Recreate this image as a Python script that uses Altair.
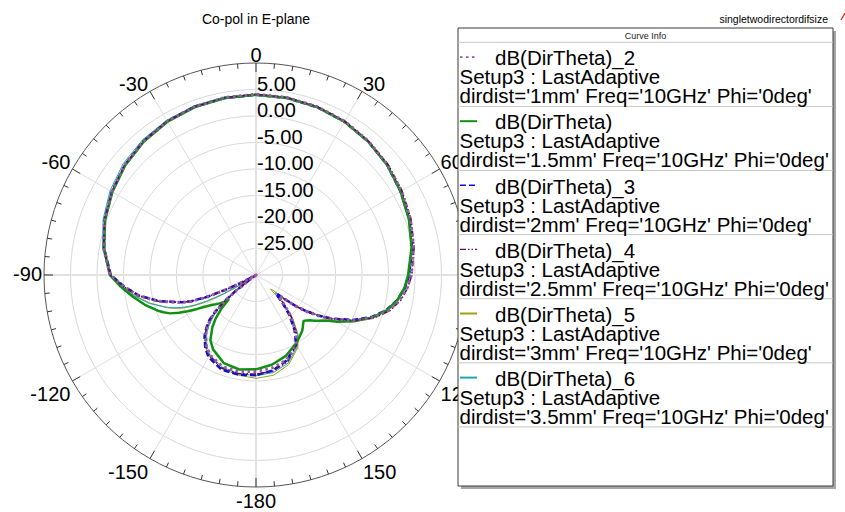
import altair as alt
import pandas as pd

# Far-field cut (Phi = 0 deg, 10 GHz): angle in degrees, 0 = zenith, clockwise positive.
theta_deg = [-180, -170, -160, -150, -145, -140, -137, -134, -132, -130,
             -128, -126, -124, -122, -120, -118, -116, -114, -112, -110,
             -105, -100, -95, -90, -80, -70, -60, -50, -40, -30,
             -20, -10, 0, 10, 20, 30, 40, 50, 60, 70,
             80, 90, 95, 100, 105, 110, 115, 120, 123, 126,
             128, 130, 132, 134, 136, 138, 140, 145, 150, 160,
             170, 180]

# dB(DirTheta) for each director spacing
db_1mm = [-11.8, -11.5, -11.6, -12.6, -13.7, -15.2, -16.5, -18.1, -19.9, -22.4,
          -25.5, -29.5, -33.0, -33.0, -31.0, -27.0, -23.4, -19.5, -16.6, -14.8,
          -10.9, -7.5, -4.9, -2.5, -0.8, 0.4, 1.4, 2.3, 3.0, 3.5,
          3.8, 4.0, 4.1, 4.0, 3.8, 3.5, 3.0, 2.4, 1.7, 1.0,
          0.2, -0.7, -1.4, -2.5, -4.1, -6.5, -9.7, -13.4, -15.8, -18.4,
          -20.4, -22.8, -24.2, -23.8, -22.6, -21.2, -19.8, -16.9, -14.8, -13.0,
          -12.2, -11.8]
db_1p5mm = [-12.2, -11.9, -12.3, -13.8, -15.0, -17.2, -18.9, -21.0, -23.0, -22.1,
            -21.3, -20.6, -19.9, -18.8, -17.2, -15.4, -13.8, -12.2, -11.2, -10.3,
            -8.3, -6.4, -4.4, -2.4, -0.9, 0.3, 1.3, 2.2, 2.9, 3.4,
            3.7, 3.9, 4.0, 3.9, 3.7, 3.4, 2.9, 2.3, 1.5, 0.7,
            -0.2, -1.3, -1.9, -2.9, -4.4, -6.6, -9.4, -12.4, -14.2, -15.3,
            -16.0, -16.7, -17.2, -17.5, -17.2, -16.8, -16.4, -15.7, -15.0, -13.7,
            -12.8, -12.2]
db_2mm = [-11.1, -10.9, -11.0, -12.1, -13.3, -14.9, -16.2, -17.8, -19.6, -22.0,
          -25.0, -29.0, -33.0, -33.0, -31.0, -27.5, -23.8, -19.8, -16.8, -15.0,
          -11.0, -7.6, -5.0, -2.6, -0.9, 0.4, 1.4, 2.3, 3.0, 3.5,
          3.8, 3.9, 4.0, 3.9, 3.7, 3.4, 2.9, 2.3, 1.5, 0.8,
          -0.1, -1.1, -1.8, -2.9, -4.5, -6.8, -9.9, -13.6, -16.0, -18.6,
          -20.5, -23.0, -24.8, -24.4, -23.2, -21.8, -20.3, -17.3, -14.9, -12.9,
          -11.7, -11.1]
db_2p5mm = [-11.3, -11.1, -11.3, -12.4, -13.5, -15.0, -16.3, -17.9, -19.7, -22.2,
            -25.2, -29.2, -33.0, -33.0, -31.0, -27.2, -23.6, -19.6, -16.7, -14.9,
            -10.9, -7.5, -4.9, -2.5, -0.8, 0.4, 1.4, 2.3, 3.0, 3.5,
            3.8, 4.0, 4.1, 4.0, 3.8, 3.5, 3.0, 2.5, 1.8, 1.1,
            0.3, -0.6, -1.3, -2.3, -3.9, -6.3, -9.6, -13.3, -15.7, -18.3,
            -20.3, -22.6, -24.0, -23.6, -22.4, -21.0, -19.6, -16.8, -14.7, -12.6,
            -11.6, -11.3]
db_3mm = [-10.5, -10.8, -11.2, -12.3, -13.4, -15.0, -16.4, -18.2, -20.0, -22.4,
          -25.0, -27.6, -27.8, -25.6, -22.0, -18.8, -16.4, -14.6, -13.2, -12.0,
          -9.4, -7.0, -4.7, -2.5, -0.8, 0.4, 1.5, 2.4, 3.0, 3.5,
          3.8, 3.9, 4.0, 3.9, 3.7, 3.4, 2.9, 2.3, 1.6, 0.8,
          0.0, -1.0, -1.7, -2.7, -4.2, -6.6, -9.8, -13.6, -16.2, -19.0,
          -21.0, -23.6, -25.8, -26.2, -22.8, -20.6, -19.1, -16.1, -14.2, -12.0,
          -10.8, -10.5]
db_3p5mm = [-11.0, -11.1, -11.5, -12.6, -13.8, -15.5, -17.0, -18.8, -20.4, -22.5,
            -25.0, -27.8, -28.5, -26.5, -23.0, -19.6, -17.0, -15.0, -13.5, -12.2,
            -9.2, -6.8, -4.6, -2.4, -0.6, 0.7, 1.8, 2.7, 3.3, 3.7,
            4.0, 4.1, 4.1, 4.0, 3.8, 3.5, 3.0, 2.4, 1.6, 0.9,
            0.0, -1.0, -1.7, -2.7, -4.3, -6.7, -9.8, -13.5, -16.0, -18.7,
            -20.7, -23.0, -25.0, -24.8, -22.8, -21.0, -19.5, -16.3, -14.4, -12.3,
            -11.3, -11.0]

trace_names = ["dB(DirTheta)_2", "dB(DirTheta)", "dB(DirTheta)_3",
               "dB(DirTheta)_4", "dB(DirTheta)_5", "dB(DirTheta)_6"]
dirdist = ["1mm", "1.5mm", "2mm", "2.5mm", "3mm", "3.5mm"]
trace_db = [db_1mm, db_1p5mm, db_2mm, db_2p5mm, db_3mm, db_3p5mm]

ring_levels = [-25, -20, -15, -10, -5, 0, 5]
angle_ticks = [0, 30, 60, 90, 120, 150, 180, -150, -120, -90, -60, -30]
angle_text = ["0", "30", "60", "90", "120", "150", "-180", "-150", "-120", "-90", "-60", "-30"]

# trace styles: color, dash, width (legend swatch width)
styles = {
    "1mm": dict(color="#985a98", dash=[2.5, 3.5], width=3.0, sw=1.6),
    "1.5mm": dict(color="#109010", dash=None, width=2.5, sw=2.0),
    "2mm": dict(color="#0c0ce0", dash=[6, 3], width=2.5, sw=1.6),
    "2.5mm": dict(color="#5c105c", dash=[6, 2, 1.5, 2, 1.5, 2], width=1.6, sw=1.4),
    "3mm": dict(color="#a0a010", dash=None, width=1.0, sw=2.0),
    "3.5mm": dict(color="#1ea7b8", dash=None, width=1.0, sw=2.0),
}
draw_order = ["3mm", "3.5mm", "2mm", "1.5mm", "2.5mm", "1mm"]

W, H = 845, 512
CX, CY, RPX = 256, 275, 212
FONT = "Liberation Sans"

xs = alt.Scale(domain=[-CX / RPX, (W - CX) / RPX], nice=False, zero=False)
ys = alt.Scale(domain=[-(H - CY) / RPX, CY / RPX], nice=False, zero=False)
X = lambda f: alt.X(f"{f}:Q", scale=xs, axis=None)
Y = lambda f: alt.Y(f"{f}:Q", scale=ys, axis=None)


def to_xy(chart, r="(max(datum.db, -30) + 30) / 40"):
    # radial axis: -30 dB at the centre, +10 dB on the outer ring
    return chart.transform_calculate(rr=r).transform_calculate(
        x="datum.rr * sin(datum.theta * PI / 180)",
        y="datum.rr * cos(datum.theta * PI / 180)",
    )


layers = []

# --- polar grid ---
ring_rows = []
for lv in ring_levels + [10]:
    for k, a in enumerate(range(0, 361, 3)):
        ring_rows.append({"db": lv, "theta": a, "k": k})
ring_df = pd.DataFrame(ring_rows)
layers.append(to_xy(alt.Chart(ring_df).transform_filter("datum.db < 10")).mark_line(
    color="#d9d9d9", strokeWidth=1).encode(x=X("x"), y=Y("y"), detail="db:N", order="k:Q"))

spoke_df = pd.DataFrame({"theta": list(range(0, 360, 30))})
spokes = alt.Chart(spoke_df).transform_calculate(
    x0="0", y0="0",
    x="sin(datum.theta * PI / 180)", y="cos(datum.theta * PI / 180)",
    main="datum.theta % 90 == 0 ? 1 : 0")
layers.append(spokes.transform_filter("datum.main == 0").mark_rule(color="#dedede", strokeWidth=1).encode(
    x=X("x0"), y=Y("y0"), x2="x:Q", y2="y:Q"))
layers.append(spokes.transform_filter("datum.main == 1").mark_rule(color="#e2e2e2", strokeWidth=2).encode(
    x=X("x0"), y=Y("y0"), x2="x:Q", y2="y:Q"))

layers.append(to_xy(alt.Chart(ring_df).transform_filter("datum.db == 10")).mark_line(
    color="#555555", strokeWidth=1).encode(x=X("x"), y=Y("y"), order="k:Q"))

tick_df = pd.DataFrame({"theta": list(range(0, 360, 5))})
for cond, ln in [("datum.theta % 30 == 0", 9), ("datum.theta % 30 != 0", 5)]:
    t = alt.Chart(tick_df).transform_filter(cond).transform_calculate(
        x="sin(datum.theta * PI / 180)", y="cos(datum.theta * PI / 180)",
        x2=f"(1 - {ln / RPX}) * sin(datum.theta * PI / 180)",
        y2=f"(1 - {ln / RPX}) * cos(datum.theta * PI / 180)")
    layers.append(t.mark_rule(color="#333333", strokeWidth=1).encode(
        x=X("x"), y=Y("y"), x2="x2:Q", y2="y2:Q"))

# radial labels
rl_df = pd.DataFrame({"db": ring_levels, "label": [f"{v:.2f}" for v in ring_levels], "theta": 0})
layers.append(to_xy(alt.Chart(rl_df)).mark_text(
    align="left", baseline="alphabetic", font=FONT, fontSize=20, dx=1, dy=1, color="black"
).encode(x=X("x"), y=Y("y"), text="label:N"))

# angle labels, anchored on the outer ring
ang_df = pd.DataFrame({"theta": angle_ticks, "label": angle_text})
placements = [
    ("datum.theta == 0", "center", "alphabetic", 0, -1),
    ("datum.theta == 180", "center", "top", 0, 5),
    ("datum.theta > 0 && datum.theta < 90", "left", "alphabetic", 1, 0),
    ("datum.theta == 90", "left", "middle", 2, 0),
    ("datum.theta > 90 && datum.theta < 180", "left", "top", 1, 4),
    ("datum.theta < 0 && datum.theta > -90", "right", "alphabetic", -2, 0),
    ("datum.theta == -90", "right", "middle", -2, 0),
    ("datum.theta < -90", "right", "top", -2, 4),
]
for cond, al, bl, dx, dy in placements:
    layers.append(to_xy(alt.Chart(ang_df).transform_filter(cond), r="1").mark_text(
        align=al, baseline=bl, dx=dx, dy=dy, font=FONT, fontSize=20, color="black"
    ).encode(x=X("x"), y=Y("y"), text="label:N"))

# --- pattern traces ---
rows = []
for dd, vals in zip(dirdist, trace_db):
    assert len(vals) == len(theta_deg)
    for k, (a, v) in enumerate(zip(theta_deg, vals)):
        rows.append({"dirdist": dd, "k": k, "theta": a, "db": v})
curve_df = pd.DataFrame(rows)

for dd in draw_order:
    st = styles[dd]
    kw = dict(color=st["color"], strokeWidth=st["width"], strokeJoin="round")
    if st["dash"]:
        kw["strokeDash"] = st["dash"]
    layers.append(to_xy(alt.Chart(curve_df).transform_filter(f"datum.dirdist == '{dd}'"))
                  .mark_line(**kw).encode(x=X("x"), y=Y("y"), order="k:Q"))

# --- "Curve Info" box ---
PX = lambda f: alt.X(f"{f}:Q", scale=None, axis=None)
PY = lambda f: alt.Y(f"{f}:Q", scale=None, axis=None)
box_df = pd.DataFrame({"x0": [458], "x1": [833], "y0": [28], "y1": [486]})
layers.append(alt.Chart(box_df).transform_calculate(
    sx0="datum.x0 + 3", sx1="datum.x1 + 3", sy0="datum.y0 + 3", sy1="datum.y1 + 3"
).mark_rect(color="#a6a6a6").encode(x=PX("sx0"), x2="sx1:Q", y=PY("sy0"), y2="sy1:Q"))
layers.append(alt.Chart(box_df).mark_rect(fill="white", stroke="#3a3a3a", strokeWidth=1).encode(
    x=PX("x0"), x2="x1:Q", y=PY("y0"), y2="y1:Q"))

TOP0, STEP = 42.3, 64.1
sep_df = pd.DataFrame({"yy": [TOP0 + STEP * i for i in range(7)], "xa": 458, "xb": 833})
layers.append(alt.Chart(sep_df).mark_rule(color="#c8c8c8", strokeWidth=1).encode(
    x=PX("xa"), x2="xb:Q", y=PY("yy")))

layers.append(alt.Chart(pd.DataFrame({"t": ["Curve Info"], "px": [645.5], "py": [35.5]})).mark_text(
    font=FONT, fontSize=9, align="center", baseline="middle", color="#222222"
).encode(x=PX("px"), y=PY("py"), text="t:N"))

text_rows = []
for i, (nm, dd) in enumerate(zip(trace_names, dirdist)):
    top = TOP0 + STEP * i
    text_rows.append({"t": nm, "px": 495, "py": top + 23})
    text_rows.append({"t": "Setup3 : LastAdaptive", "px": 459.5, "py": top + 42})
    text_rows.append({"t": f"dirdist='{dd}' Freq='10GHz' Phi='0deg'", "px": 459.5, "py": top + 61})
layers.append(alt.Chart(pd.DataFrame(text_rows)).mark_text(
    font=FONT, fontSize=20.5, align="left", baseline="alphabetic", color="black"
).encode(x=PX("px"), y=PY("py"), text="t:N"))

for i, dd in enumerate(dirdist):
    st = styles[dd]
    kw = dict(color=st["color"], strokeWidth=st["sw"])
    if st["dash"]:
        kw["strokeDash"] = st["dash"]
    sym = pd.DataFrame({"xa": [460], "xb": [477], "yy": [TOP0 + STEP * i + 14.8]})
    layers.append(alt.Chart(sym).mark_rule(**kw).encode(x=PX("xa"), x2="xb:Q", y=PY("yy")))

# --- titles ---
layers.append(alt.Chart(pd.DataFrame({"t": ["Co-pol in E-plane"], "px": [256], "py": [20]})).mark_text(
    font=FONT, fontSize=14, align="center", baseline="middle", color="black"
).encode(x=PX("px"), y=PY("py"), text="t:N"))
layers.append(alt.Chart(pd.DataFrame({"t": ["singletwodirectordifsize"], "px": [828], "py": [20]})).mark_text(
    font=FONT, fontSize=10.5, align="right", baseline="middle", color="black"
).encode(x=PX("px"), y=PY("py"), text="t:N"))
layers.append(alt.Chart(pd.DataFrame({"xa": [841], "xb": [845], "ya": [20], "yb": [13]})).mark_rule(
    color="#d0452a", strokeWidth=1.5).encode(x=PX("xa"), x2="xb:Q", y=PY("ya"), y2="yb:Q"))

chart = alt.layer(*layers).properties(
    width=W, height=H, padding=0, autosize=alt.AutoSizeParams(type="none"),
    background="white",
).configure_view(stroke=None)

chart.save("out.html", embed_options={"renderer": "svg", "actions": False})
